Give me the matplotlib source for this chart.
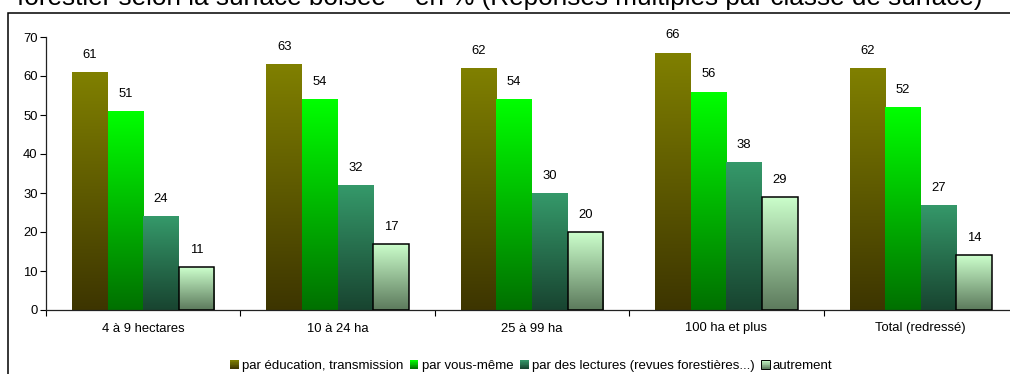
import numpy as np
import matplotlib
matplotlib.use("Agg")
import matplotlib.pyplot as plt
from matplotlib.colors import to_rgb
from matplotlib.patches import Rectangle
from matplotlib.legend_handler import HandlerBase

plt.rcParams['font.family'] = ['Liberation Sans', 'DejaVu Sans']

# Data: share of forest owners (%) by how they learned forest management
categories = ["4 à 9 hectares", "10 à 24 ha", "25 à 99 ha", "100 ha et plus", "Total (redressé)"]
education = [61, 63, 62, 66, 62]
vous_meme = [51, 54, 54, 56, 52]
lectures = [24, 32, 30, 38, 27]
autrement = [11, 17, 20, 29, 14]
series_labels = ["par éducation, transmission", "par vous-même",
                 "par des lectures (revues forestières...)", "autrement"]
title_line = "forestier selon la surface boisée – en % (Réponses multiples par classe de surface)"

# gradient fills (bottom colour, top colour, edge colour)
styles = [
    ("#3d3500", "#808000", None),
    ("#007000", "#00ff00", None),
    ("#184430", "#35996a", None),
    ("#5c7a5c", "#ccffcc", "#000000"),
]

W, H = 1010, 374
fig = plt.figure(figsize=(W / 100, H / 100), dpi=100)
ax = fig.add_axes([46 / W, 64 / H, 972 / W, 273 / H])


def gradient_bar(ax, x, width, height, c_bottom, c_top, edge):
    rect = ax.bar(x, height, width, color='none',
                  edgecolor=edge if edge else 'none',
                  linewidth=1.1 if edge else 0, zorder=3)[0]
    t = np.linspace(0, 1, 256)[:, None, None]
    c0 = np.array(to_rgb(c_bottom))
    c1 = np.array(to_rgb(c_top))
    img = c0 + (c1 - c0) * t
    im = ax.imshow(img, extent=[x - width / 2, x + width / 2, 0, height],
                   origin='lower', aspect='auto', zorder=2,
                   interpolation='bilinear')
    im.set_clip_path(rect)
    return rect


all_series = [education, vous_meme, lectures, autrement]
bw = 0.183
x = np.arange(len(categories))
for i, (vals, (cb, ct, ec)) in enumerate(zip(all_series, styles)):
    offs = (i - 1.5) * bw
    for xi, v in zip(x, vals):
        gradient_bar(ax, xi + offs, bw, v, cb, ct, ec)
        ax.annotate(f"{v}", (xi + offs, v), xytext=(0, 8),
                    textcoords='offset points', ha='center', va='bottom',
                    fontsize=9.4, color='black')

ax.set_xlim(-0.5, len(categories) - 0.5)
ax.set_ylim(0, 70)
ax.set_yticks(range(0, 71, 10))
ax.set_xticks(x)
ax.set_xticklabels(categories)
ax.set_xticks(np.arange(-0.5, len(categories)), minor=True)
ax.tick_params(axis='x', which='major', length=0, pad=9, labelsize=9.4)
ax.tick_params(axis='x', which='minor', length=4, width=0.8, direction='out')
ax.tick_params(axis='y', length=4, width=0.8, direction='out', pad=2, labelsize=9.4)
for s in ('top', 'right'):
    ax.spines[s].set_visible(False)
for s in ('left', 'bottom'):
    ax.spines[s].set_linewidth(0.9)
    ax.spines[s].set_color('#222222')
ax.set_facecolor('none')


class Swatch:
    def __init__(self, c_bottom, c_top, edge):
        self.c_bottom, self.c_top, self.edge = c_bottom, c_top, edge


class SwatchHandler(HandlerBase):
    def create_artists(self, legend, orig, xdescent, ydescent, width, height,
                       fontsize, trans):
        side = 6.2
        x0 = -xdescent + (width - side) / 2
        y0 = -ydescent + (height - side) / 2
        n = 12
        c0 = np.array(to_rgb(orig.c_bottom))
        c1 = np.array(to_rgb(orig.c_top))
        arts = []
        for k in range(n):
            c = c0 + (c1 - c0) * (k + 0.5) / n
            arts.append(Rectangle((x0, y0 + side * k / n), side, side / n + 0.05,
                                  facecolor=c, edgecolor='none', transform=trans))
        arts.append(Rectangle((x0, y0), side, side, facecolor='none',
                              edgecolor=orig.edge if orig.edge else 'none',
                              linewidth=0.7, transform=trans))
        return arts


handles = [Swatch(*s) for s in styles]
fig.legend(handles, series_labels, handler_map={Swatch: SwatchHandler()},
           loc='center', bbox_to_anchor=(531 / W, 1 - 366 / H), ncol=4,
           frameon=False, fontsize=9.5, handlelength=0.75, handleheight=0.75,
           handletextpad=0.2, columnspacing=0.45, borderpad=0)

# outer frame of the chart area
fig.add_artist(Rectangle((8 / W, -0.5), 1.2, 0.5 + 1 - 13 / H, transform=fig.transFigure,
                         fill=False, edgecolor='#000000', linewidth=1.1))

fig.text(17 / W, 1 - 4.8 / H, title_line, ha='left', va='baseline',
         fontsize=18.8, color='black')

fig.savefig("out.png", dpi=100)
